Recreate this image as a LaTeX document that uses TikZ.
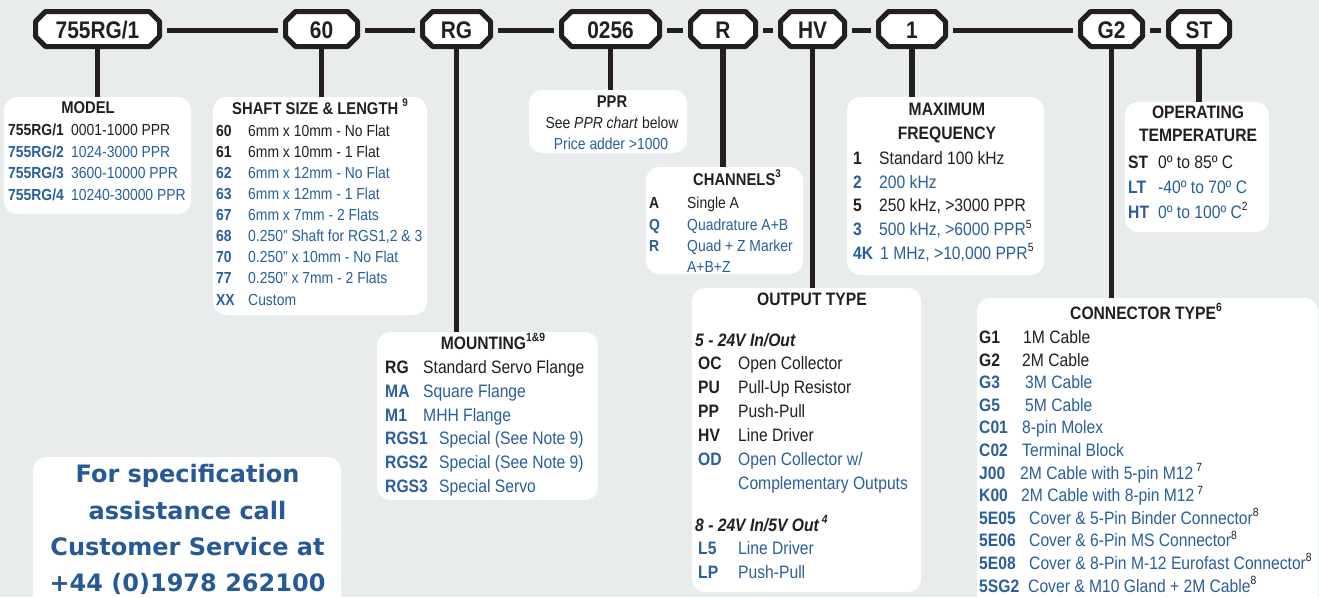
\documentclass[tikz,border=0pt]{standalone}
\usepackage{fontspec}
\setmainfont{Liberation Sans}[FakeStretch=0.87]
\newfontfamily\specfont{DejaVu Sans}
\definecolor{ink}{HTML}{231F20}
\definecolor{blu}{HTML}{2A5E9C}
\definecolor{spb}{HTML}{275A95}
\definecolor{bg}{HTML}{E9ECED}
\newcommand\sups[1]{\textcolor{ink}{\raisebox{0.42em}{\scalebox{0.66}{#1}}}}
\tikzset{
  tagbox/.style={minimum width=#1, minimum height=35, inner sep=0, outer sep=0},
  octo/.style={draw=ink, line width=5, fill=white, line join=round},
  taglbl/.style={font=\fontsize{24}{24}\selectfont\bfseries, text=ink, inner sep=0, anchor=base},
  hlink/.style={draw=ink, line width=5, shorten <=7.5pt, shorten >=8pt},
  vlink/.style={draw=ink, line width=5.5},
  card/.style={fill=white, rounded corners=13, anchor=north west, inner sep=0, outer sep=0},
  hs/.style={font=\fontsize{17}{20}\selectfont\bfseries, text=ink, anchor=base, inner sep=0},
  hl/.style={font=\fontsize{18}{21}\selectfont\bfseries, text=ink, anchor=base, inner sep=0},
  cs/.style={font=\fontsize{16}{19}\selectfont\bfseries, anchor=base west, inner sep=0},
  ds/.style={font=\fontsize{16}{19}\selectfont, anchor=base west, inner sep=0},
  cl/.style={font=\fontsize{18}{21}\selectfont\bfseries, anchor=base west, inner sep=0},
  dl/.style={font=\fontsize{18}{21}\selectfont, anchor=base west, inner sep=0},
  inkt/.style={text=ink}, blut/.style={text=blu},
  spec/.style={font=\fontsize{24}{24}\specfont\bfseries, text=spb, anchor=base, inner sep=0}
}
\newcommand\octo[4]{%
  \node[tagbox=#3] (#1) at (#2,29) {};
  \path[octo] ([xshift=10pt]#1.north west) -- ([xshift=-10pt]#1.north east) -- ([yshift=-10pt]#1.north east) -- ([yshift=10pt]#1.south east) -- ([xshift=-10pt]#1.south east) -- ([xshift=10pt]#1.south west) -- ([yshift=10pt]#1.south west) -- ([yshift=-10pt]#1.north west) -- cycle;
  \node[taglbl] (#1l) at ([yshift=-9.6pt]#1.center) {#4};
}
\begin{document}
\begin{tikzpicture}[x=1pt, y=-1pt]
\useasboundingbox (0,0) rectangle (1319,597);
\fill[bg] (0,0) rectangle (1319,597);

% cards
\node[card, minimum width=187, minimum height=117] (model) at (4,97) {};
\node[card, minimum width=214, minimum height=218] (shaft) at (213,97) {};
\node[card, minimum width=158, minimum height=63] (ppr) at (529,90) {};
\node[card, minimum width=157, minimum height=107] (chan) at (646,167) {};
\node[card, minimum width=197, minimum height=178] (freq) at (847,97) {};
\node[card, minimum width=144, minimum height=130] (temp) at (1125,102) {};
\node[card, minimum width=221, minimum height=168] (mount) at (377,332) {};
\node[card, minimum width=229, minimum height=304] (outp) at (692,288) {};
\node[card, minimum width=341, minimum height=320] (conn) at (977,298) {};
\node[card, minimum width=308, minimum height=160] (help) at (33,457) {};

% tags
\octo{t1}{97.5}{124}{755RG/1}
\octo{t2}{321.5}{72}{60}
\octo{t3}{456.5}{68}{RG}
\octo{t4}{610.5}{98}{0256}
\octo{t5}{723}{65}{R}
\octo{t6}{812.5}{64}{HV}
\octo{t7}{912}{67}{1}
\octo{t8}{1111.5}{62}{G2}
\octo{t9}{1199}{61}{ST}

% connectors
\draw[hlink] ([yshift=-1.5pt]t1.east) -- ([yshift=-1.5pt]t2.west);
\draw[hlink] ([yshift=-1.5pt]t2.east) -- ([yshift=-1.5pt]t3.west);
\draw[hlink] ([yshift=-1.5pt]t3.east) -- ([yshift=-1.5pt]t4.west);
\draw[hlink] ([yshift=-1.5pt]t4.east) -- ([yshift=-1.5pt]t5.west);
\draw[hlink] ([yshift=-1.5pt]t5.east) -- ([yshift=-1.5pt]t6.west);
\draw[hlink] ([yshift=-1.5pt]t6.east) -- ([yshift=-1.5pt]t7.west);
\draw[hlink] ([yshift=-1.5pt]t7.east) -- ([yshift=-1.5pt]t8.west);
\draw[hlink] ([yshift=-1.5pt]t8.east) -- ([yshift=-1.5pt]t9.west);
\draw[vlink] (t1.south) -- (t1.south |- model.north);
\draw[vlink] (t2.south) -- (t2.south |- shaft.north);
\draw[vlink] (t3.south) -- (t3.south |- mount.north);
\draw[vlink] (t4.south) -- (t4.south |- ppr.north);
\draw[vlink] (t5.south) -- (t5.south |- chan.north);
\draw[vlink] (t6.south) -- (t6.south |- outp.north);
\draw[vlink] (t7.south) -- (t7.south |- freq.north);
\draw[vlink] (t8.south) -- (t8.south |- conn.north);
\draw[vlink] (t9.south) -- (t9.south |- temp.north);

% MODEL
\node[hs] (moT) at (88,113) {MODEL};
\node[cs,inkt] (mo1c) at (8,135.5) {755RG/1}; \node[ds,inkt] (mo1d) at (71,135.5) {0001-1000 PPR};
\node[cs,blut] (mo2c) at (8,157) {755RG/2}; \node[ds,blut] (mo2d) at (71,157) {1024-3000 PPR};
\node[cs,blut] (mo3c) at (8,178.5) {755RG/3}; \node[ds,blut] (mo3d) at (71,178.5) {3600-10000 PPR};
\node[cs,blut] (mo4c) at (8,200) {755RG/4}; \node[ds,blut] (mo4d) at (71,200) {10240-30000 PPR};

% SHAFT
\node[hs] (shT) at (320,114) {SHAFT SIZE \& LENGTH \sups{9}};
\node[cs,inkt] (sh1c) at (216,136) {60}; \node[ds,inkt] (sh1d) at (248,136) {6mm x 10mm - No Flat};
\node[cs,inkt] (sh2c) at (216,157.1) {61}; \node[ds,inkt] (sh2d) at (248,157.1) {6mm x 10mm - 1 Flat};
\node[cs,blut] (sh3c) at (216,178.3) {62}; \node[ds,blut] (sh3d) at (248,178.3) {6mm x 12mm - No Flat};
\node[cs,blut] (sh4c) at (216,199.4) {63}; \node[ds,blut] (sh4d) at (248,199.4) {6mm x 12mm - 1 Flat};
\node[cs,blut] (sh5c) at (216,220.5) {67}; \node[ds,blut] (sh5d) at (248,220.5) {6mm x 7mm - 2 Flats};
\node[cs,blut] (sh6c) at (216,241.6) {68}; \node[ds,blut] (sh6d) at (248,241.6) {0.250" Shaft for RGS1,2 \& 3};
\node[cs,blut] (sh7c) at (216,262.8) {70}; \node[ds,blut] (sh7d) at (248,262.8) {0.250" x 10mm - No Flat};
\node[cs,blut] (sh8c) at (216,283.9) {77}; \node[ds,blut] (sh8d) at (248,283.9) {0.250" x 7mm - 2 Flats};
\node[cs,blut] (sh9c) at (216,305) {XX}; \node[ds,blut] (sh9d) at (248,305) {Custom};

% PPR
\node[hs] (ppT) at (612,107) {PPR};
\node[ds,inkt,anchor=base] (pp1) at (612,128) {See \textit{PPR chart} below};
\node[ds,blut,anchor=base] (pp2) at (611,149) {Price adder >1000};

% CHANNELS
\node[hs] (chT) at (737,185) {CHANNELS\sups{3}};
\node[cs,inkt] (ch1c) at (649,208) {A}; \node[ds,inkt] (ch1d) at (687,208) {Single A};
\node[cs,blut] (ch2c) at (649,230) {Q}; \node[ds,blut] (ch2d) at (687,230) {Quadrature A+B};
\node[cs,blut] (ch3c) at (649,251) {R}; \node[ds,blut] (ch3d) at (687,251) {Quad + Z Marker};
\node[ds,blut] (ch4d) at (687,272) {A+B+Z};

% MAX FREQUENCY
\node[hl] (frT1) at (947,115.5) {MAXIMUM};
\node[hl] (frT2) at (947,139.5) {FREQUENCY};
\node[cl,inkt] (fr1c) at (853,164.5) {1}; \node[dl,inkt] (fr1d) at (879,164.5) {Standard 100 kHz};
\node[cl,blut] (fr2c) at (853,188.2) {2}; \node[dl,blut] (fr2d) at (879,188.2) {200 kHz};
\node[cl,inkt] (fr3c) at (853,211.9) {5}; \node[dl,inkt] (fr3d) at (879,211.9) {250 kHz, >3000 PPR};
\node[cl,blut] (fr4c) at (853,235.6) {3}; \node[dl,blut] (fr4d) at (879,235.6) {500 kHz, >6000 PPR\sups{5}};
\node[cl,blut] (fr5c) at (853,259.3) {4K}; \node[dl,blut] (fr5d) at (880,259.3) {1 MHz, >10,000 PPR\sups{5}};

% OPERATING TEMPERATURE
\node[hl] (tpT1) at (1198,118.5) {OPERATING};
\node[hl] (tpT2) at (1198,141.5) {TEMPERATURE};
\node[cl,inkt] (tp1c) at (1128,168.5) {ST}; \node[dl,inkt] (tp1d) at (1158,168.5) {0º to 85º C};
\node[cl,blut] (tp2c) at (1128,193.5) {LT}; \node[dl,blut] (tp2d) at (1158,193.5) {-40º to 70º C};
\node[cl,blut] (tp3c) at (1128,218.5) {HT}; \node[dl,blut] (tp3d) at (1158,218.5) {0º to 100º C\sups{2}};

% MOUNTING
\node[hl] (muT) at (493,349.5) {MOUNTING\sups{1\&9}};
\node[cl,inkt] (mu1c) at (385,373.5) {RG}; \node[dl,inkt] (mu1d) at (423,373.5) {Standard Servo Flange};
\node[cl,blut] (mu2c) at (385,397.3) {MA}; \node[dl,blut] (mu2d) at (423,397.3) {Square Flange};
\node[cl,blut] (mu3c) at (385,421.1) {M1}; \node[dl,blut] (mu3d) at (423,421.1) {MHH Flange};
\node[cl,blut] (mu4c) at (385,444.9) {RGS1}; \node[dl,blut] (mu4d) at (439,444.9) {Special (See Note 9)};
\node[cl,blut] (mu5c) at (385,468.7) {RGS2}; \node[dl,blut] (mu5d) at (439,468.7) {Special (See Note 9)};
\node[cl,blut] (mu6c) at (385,492.5) {RGS3}; \node[dl,blut] (mu6d) at (439,492.5) {Special Servo};

% OUTPUT TYPE
\node[hl] (otT) at (812,305.5) {OUTPUT TYPE};
\node[cl,inkt] (otH1) at (695,346.5) {\itshape 5 - 24V In/Out};
\node[cl,inkt] (ot1c) at (698,369.5) {OC}; \node[dl,inkt] (ot1d) at (738,369.5) {Open Collector};
\node[cl,inkt] (ot2c) at (698,393.5) {PU}; \node[dl,inkt] (ot2d) at (738,393.5) {Pull-Up Resistor};
\node[cl,inkt] (ot3c) at (698,417.5) {PP}; \node[dl,inkt] (ot3d) at (738,417.5) {Push-Pull};
\node[cl,inkt] (ot4c) at (698,441.5) {HV}; \node[dl,inkt] (ot4d) at (738,441.5) {Line Driver};
\node[cl,blut] (ot5c) at (698,465.5) {OD}; \node[dl,blut] (ot5d) at (738,465.5) {Open Collector w/};
\node[dl,blut] (ot5e) at (738,489.5) {Complementary Outputs};
\node[cl,inkt] (otH2) at (695,531.5) {\itshape 8 - 24V In/5V Out\,\sups{4}};
\node[cl,blut] (ot6c) at (698,554.5) {L5}; \node[dl,blut] (ot6d) at (738,554.5) {Line Driver};
\node[cl,blut] (ot7c) at (698,578.5) {LP}; \node[dl,blut] (ot7d) at (738,578.5) {Push-Pull};

% CONNECTOR TYPE
\node[hl] (cnT) at (1146,319.5) {CONNECTOR TYPE\sups{6}};
\node[cl,inkt] (cn1c) at (979,343.5) {G1}; \node[dl,inkt] (cn1d) at (1023,343.5) {1M Cable};
\node[cl,inkt] (cn2c) at (979,366.1) {G2}; \node[dl,inkt] (cn2d) at (1022,366.1) {2M Cable};
\node[cl,blut] (cn3c) at (979,388.7) {G3}; \node[dl,blut] (cn3d) at (1025,388.7) {3M Cable};
\node[cl,blut] (cn4c) at (979,411.3) {G5}; \node[dl,blut] (cn4d) at (1025,411.3) {5M Cable};
\node[cl,blut] (cn5c) at (979,433.9) {C01}; \node[dl,blut] (cn5d) at (1022,433.9) {8-pin Molex};
\node[cl,blut] (cn6c) at (979,456.5) {C02}; \node[dl,blut] (cn6d) at (1022,456.5) {Terminal Block};
\node[cl,blut] (cn7c) at (979,479.1) {J00}; \node[dl,blut] (cn7d) at (1020,479.1) {2M Cable with 5-pin M12\,\sups{7}};
\node[cl,blut] (cn8c) at (979,501.7) {K00}; \node[dl,blut] (cn8d) at (1021,501.7) {2M Cable with 8-pin M12\,\sups{7}};
\node[cl,blut] (cn9c) at (979,524.3) {5E05}; \node[dl,blut] (cn9d) at (1029,524.3) {Cover \& 5-Pin Binder Connector\sups{8}};
\node[cl,blut] (cn10c) at (979,546.9) {5E06}; \node[dl,blut] (cn10d) at (1029,546.9) {Cover \& 6-Pin MS Connector\sups{8}};
\node[cl,blut] (cn11c) at (979,569.5) {5E08}; \node[dl,blut] (cn11d) at (1029,569.5) {Cover \& 8-Pin M-12 Eurofast Connector\sups{8}};
\node[cl,blut] (cn12c) at (979,592.1) {5SG2}; \node[dl,blut] (cn12d) at (1028,592.1) {Cover \& M10 Gland + 2M Cable\sups{8}};

% help box
\node[spec] (sp1) at (187.5,482) {For specification};
\node[spec] (sp2) at (187.5,519) {assistance call};
\node[spec] (sp3) at (187.5,555) {Customer Service at};
\node[spec] (sp4) at (187.5,591) {+44 (0)1978 262100};
\end{tikzpicture}
\end{document}
